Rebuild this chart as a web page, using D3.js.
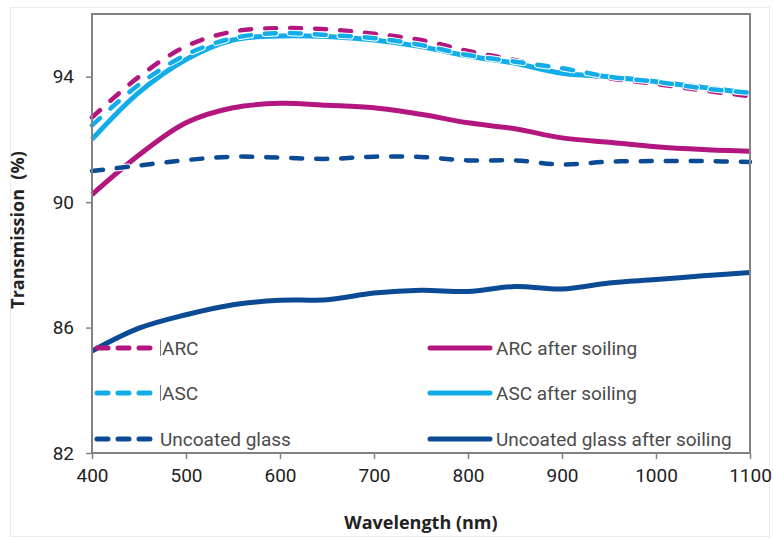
<!DOCTYPE html>
<html>
<head>
<meta charset="utf-8">
<script src="https://cdn.jsdelivr.net/npm/d3@7"></script>
<style>
  body { margin: 0; background: #fff; }
  svg { display: block; }
</style>
</head>
<body>
<div id="chart"></div>
<script>
// wavelength grid (nm)
const wavelengths = [400, 450, 500, 550, 600, 650, 700, 750, 800, 850, 900, 950, 1000, 1050, 1100];

// transmission (%)
const arcClean    = [92.7, 94.0, 94.97, 95.44, 95.55, 95.51, 95.37, 95.17, 94.82, 94.53, 94.21, 93.95, 93.77, 93.56, 93.38];
const ascClean    = [92.45, 93.75, 94.7, 95.23, 95.39, 95.33, 95.23, 95.01, 94.69, 94.48, 94.27, 94.0, 93.84, 93.63, 93.49];
const glassClean  = [90.99, 91.17, 91.34, 91.45, 91.42, 91.38, 91.45, 91.44, 91.33, 91.33, 91.2, 91.29, 91.31, 91.31, 91.28];
const arcSoiled   = [90.24, 91.5, 92.53, 93.01, 93.15, 93.09, 93.01, 92.8, 92.53, 92.34, 92.05, 91.91, 91.77, 91.68, 91.62];
const ascSoiled   = [92.0, 93.5, 94.55, 95.17, 95.3, 95.28, 95.17, 94.96, 94.66, 94.43, 94.11, 94.0, 93.84, 93.66, 93.47];
const glassSoiled = [85.25, 85.98, 86.41, 86.73, 86.87, 86.89, 87.1, 87.19, 87.15, 87.31, 87.23, 87.42, 87.53, 87.65, 87.76];

const xTicks = [400, 500, 600, 700, 800, 900, 1000, 1100];
const yTicks = [82, 86, 90, 94];

const legendLeft  = ["ARC", "ASC", "Uncoated glass"];
const legendRight = ["ARC after soiling", "ASC after soiling", "Uncoated glass after soiling"];

const magenta = "#b3177f", sky = "#12ade9", navy = "#0b4a94";

var W = 773, H = 539;
var margin = {top: 14, right: 23, bottom: 86, left: 92},
    width = W - margin.left - margin.right,
    height = H - margin.top - margin.bottom;

var svg = d3.select("#chart").append("svg")
    .attr("width", W).attr("height", H);

// faint outer frame of the figure
svg.append("rect").attr("x", 10.5).attr("y", 7.5).attr("width", 759).attr("height", 529)
  .attr("fill", "none").attr("stroke", "#ececec").attr("stroke-width", 1);

var g = svg.append("g").attr("transform", "translate(" + margin.left + "," + margin.top + ")");

var x = d3.scaleLinear().domain([400, 1100]).range([0, width]);
var y = d3.scaleLinear().domain([82, 96]).range([height, 0]);

var line = d3.line()
    .x(function(d) { return x(d.w); })
    .y(function(d) { return y(d.v); })
    .curve(d3.curveCatmullRom);

function pts(vals) {
  return wavelengths.map(function(w, i) { return {w: w, v: vals[i]}; });
}

var series = [
  {vals: arcSoiled,   color: magenta, dashed: false},
  {vals: glassSoiled, color: navy,    dashed: false},
  {vals: glassClean,  color: navy,    dashed: true},
  {vals: arcClean,    color: magenta, dashed: true},
  {vals: ascSoiled,   color: sky,     dashed: false},
  {vals: ascClean,    color: sky,     dashed: true}
];

series.forEach(function(s) {
  if (s.dashed) {
    g.append("path").datum(pts(s.vals))
      .attr("fill", "none").attr("stroke", "#fff").attr("stroke-width", 6.5)
      .attr("stroke-linecap", "round").attr("stroke-dasharray", "11,14")
      .attr("d", line);
  }
  g.append("path").datum(pts(s.vals))
    .attr("fill", "none").attr("stroke", s.color)
    .attr("stroke-width", s.dashed ? 4.5 : 5)
    .attr("stroke-linecap", s.dashed ? "round" : "butt")
    .attr("stroke-dasharray", s.dashed ? "11,14" : null)
    .attr("d", line);
});

// plot frame
g.append("rect").attr("x", 0).attr("y", 0).attr("width", width).attr("height", height)
  .attr("fill", "none").attr("stroke", "#828282").attr("stroke-width", 2);

var xAxis = d3.axisBottom(x).tickValues(xTicks).tickFormat(d3.format("d")).tickSize(6).tickPadding(10);
var yAxis = d3.axisLeft(y).tickValues(yTicks).tickFormat(d3.format("d")).tickSize(6).tickPadding(12);

function styleAxis(ax) {
  ax.select(".domain").remove();
  ax.selectAll(".tick line").attr("stroke", "#828282").attr("stroke-width", 1.5);
  ax.selectAll(".tick text").attr("fill", "#222")
    .style("font-family", "Roboto, sans-serif").style("font-size", "19px");
}

g.append("g").attr("transform", "translate(0," + height + ")").call(xAxis).call(styleAxis);
g.append("g").call(yAxis).call(styleAxis);

// legend
function legendRow(x0, yy, label, color, dashed, bar) {
  if (dashed) {
    svg.append("line").attr("x1", x0 + 3).attr("x2", x0 + 57).attr("y1", yy).attr("y2", yy)
      .attr("stroke", color).attr("stroke-width", 5).attr("stroke-linecap", "round")
      .attr("stroke-dasharray", "11,10");
  } else {
    svg.append("line").attr("x1", x0).attr("x2", x0 + 60).attr("y1", yy).attr("y2", yy)
      .attr("stroke", color).attr("stroke-width", 5).attr("stroke-linecap", "round");
  }
  if (bar) {
    svg.append("line").attr("x1", x0 + 66.5).attr("x2", x0 + 66.5).attr("y1", yy - 8).attr("y2", yy + 8)
      .attr("stroke", "#777").attr("stroke-width", 1);
  }
  svg.append("text").attr("x", x0 + (bar ? 68 : 66)).attr("y", yy).attr("dy", "0.36em")
    .attr("fill", "#4a4a4a").style("font-family", "Roboto, sans-serif").style("font-size", "19px")
    .text(label);
}

var legendY = [348, 393, 439];
var leftColors = [magenta, sky, navy];
legendLeft.forEach(function(l, i) { legendRow(94, legendY[i], l, leftColors[i], true, i < 2); });
legendRight.forEach(function(l, i) { legendRow(430, legendY[i], l, leftColors[i], false, false); });

// axis titles
svg.append("text").attr("x", 421).attr("y", 529)
  .attr("text-anchor", "middle").attr("fill", "#222")
  .style("font-family", "'Open Sans', sans-serif").style("font-weight", "bold").style("font-size", "18px")
  .text("Wavelength (nm)");

svg.append("text").attr("transform", "translate(24,230) rotate(-90)")
  .attr("text-anchor", "middle").attr("fill", "#222")
  .style("font-family", "'Open Sans', sans-serif").style("font-weight", "bold").style("font-size", "18px")
  .style("white-space", "pre")
  .text("Transmission  (%)");
</script>
</body>
</html>
